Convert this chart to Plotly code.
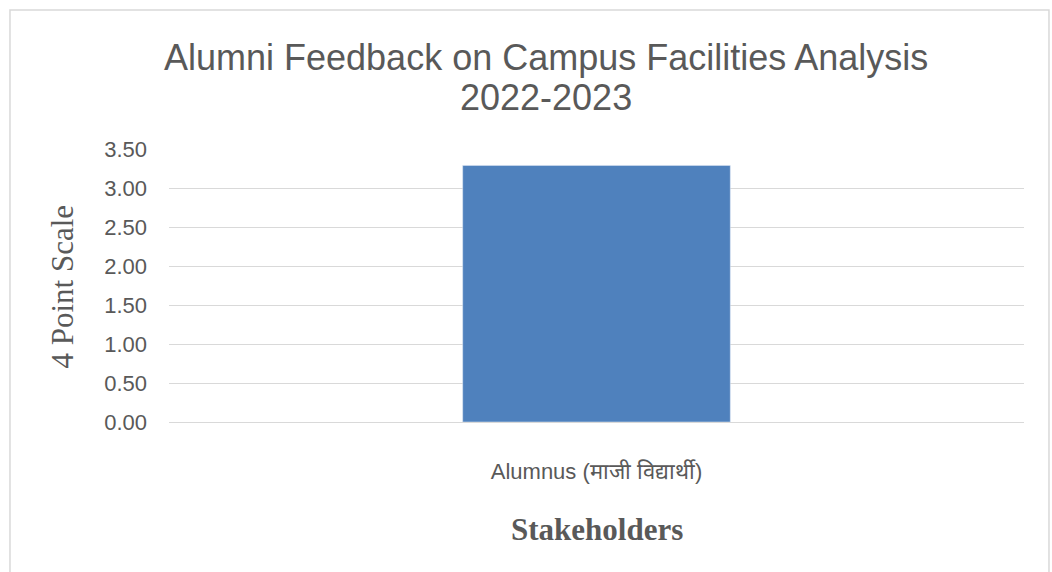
import plotly.graph_objects as go

# data
stakeholders = ["Alumnus (माजी विद्यार्थी)"]
scores = [3.29]
y_ticks = [0, 0.5, 1, 1.5, 2, 2.5, 3, 3.5]
title_lines = ["Alumni Feedback on Campus Facilities Analysis", "2022-2023"]

grey = "#595959"
grid = "#d9d9d9"

fig = go.Figure()
fig.add_trace(go.Bar(x=stakeholders, y=scores, marker_color="#4f81bd", width=0.313))

fig.update_layout(
    width=1052, height=572,
    margin=dict(l=169, r=28, t=149, b=150),
    paper_bgcolor="white", plot_bgcolor="white",
    showlegend=False,
    font=dict(family="Liberation Sans", color=grey),
)
fig.update_yaxes(
    range=[0, 3.5], tickvals=y_ticks, tickformat=".2f",
    showgrid=True, gridcolor=grid, gridwidth=1.3,
    zeroline=False, showline=False, ticks="",
    ticklabelstandoff=21,
    tickfont=dict(family="Liberation Sans", size=22, color=grey),
)
fig.update_xaxes(
    showline=True, linecolor=grid, linewidth=1.3, ticks="",
    ticklabelstandoff=29,
    tickfont=dict(family="Liberation Sans", size=22, color=grey),
)

# title, two lines
fig.add_annotation(text=title_lines[0], xref="paper", yref="paper", x=0.441, y=1.336,
                   xanchor="center", yanchor="middle", showarrow=False,
                   font=dict(family="Liberation Sans", size=36, color=grey))
fig.add_annotation(text=title_lines[1], xref="paper", yref="paper", x=0.441, y=1.19,
                   xanchor="center", yanchor="middle", showarrow=False,
                   font=dict(family="Liberation Sans", size=36, color=grey))
# axis titles
fig.add_annotation(text="4 Point Scale", xref="paper", yref="paper", x=-0.124, y=0.496,
                   xanchor="center", yanchor="middle", textangle=-90, showarrow=False,
                   font=dict(family="Liberation Serif", size=31, color=grey))
fig.add_annotation(text="<b>Stakeholders</b>", xref="paper", yref="paper", x=0.5, y=-0.394,
                   xanchor="center", yanchor="middle", showarrow=False,
                   font=dict(family="Liberation Serif", size=31, color=grey))

# outer chart border
fig.add_shape(type="rect", xref="paper", yref="paper",
              x0=-0.186, x1=1.0292, y0=-0.6, y1=1.509,
              line=dict(color=grid, width=1.5), fillcolor="rgba(0,0,0,0)", layer="below")

fig.write_html("out.html", config={"displayModeBar": False},
               post_script="document.body.style.margin='0';document.body.style.overflow='hidden';")
